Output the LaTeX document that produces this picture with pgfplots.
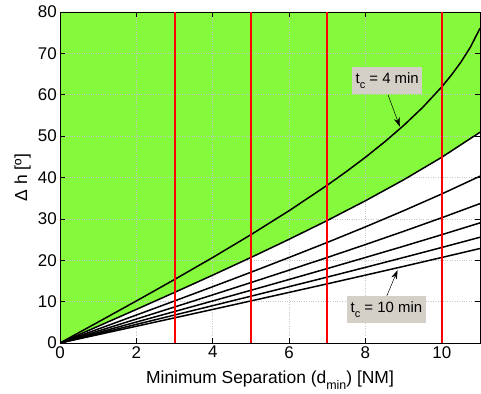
\documentclass[border=0pt]{standalone}
\usepackage{fontspec}
\setmainfont{Liberation Sans}
\usepackage{pgfplots}
\pgfplotsset{compat=1.18}
\usetikzlibrary{arrows.meta}
\definecolor{lime}{RGB}{133,250,60}
\definecolor{annot}{RGB}{212,208,200}
\begin{document}
\begin{tikzpicture}
\begin{axis}[
  set layers,
  scale only axis, width=420bp, height=331bp,
  xmin=0, xmax=11, ymin=0, ymax=80,
  xtick={0,2,4,6,8,10}, ytick={0,10,...,80},
  /pgf/number format/assume math mode=true,
  tick label style={font=\fontsize{17}{19}\selectfont},
  label style={font=\fontsize{17.5}{19}\selectfont},
  xticklabel style={inner sep=2bp, yshift=-1bp},
  yticklabel style={inner sep=3bp},
  tick align=inside, major tick length=5bp,
  tick style={black, line width=0.5bp},
  axis line style={black, line width=0.5bp},
  grid=major, major grid style={gray!45, dotted, line width=0.5bp},
  xlabel={Minimum Separation (d\raisebox{-0.75ex}{\fontsize{12.5}{13}\selectfont min}) [NM]},
  ylabel={Δ h [º]},
  xlabel style={at={(axis description cs:0.5,0)}, anchor=base, yshift=-40bp},
  ylabel style={at={(axis description cs:-0.089,0.5)}, anchor=center},
]
% green region above tc = 5 min
\addplot[fill=lime, draw=none, on layer=axis background] coordinates {
 (0,0) (1,4.048) (2,8.116) (3,12.23) (4,16.40) (5,20.67) (6,25.06) (7,29.61) (8,34.38) (9,39.44) (10,44.90) (11,50.94) (11,80) (0,80)};
% tc = 4
\addplot[black, line width=1.5bp] coordinates {
 (0,0) (1,5.062) (2,10.164) (3,15.35) (4,20.667) (5,26.18) (6,31.97) (7,38.14) (7.5,41.43) (8,44.90) (8.5,48.59) (9,52.57) (9.5,56.95) (10,61.93) (10.25,64.75) (10.5,67.88) (10.75,71.53) (11,76.06)};
% tc = 5
\addplot[black, line width=1.5bp] coordinates {
 (0,0) (1,4.048) (2,8.116) (3,12.23) (4,16.40) (5,20.67) (6,25.06) (7,29.61) (8,34.38) (9,39.44) (10,44.90) (11,50.94)};
% tc = 6
\addplot[black, line width=1.5bp] coordinates {
 (0,0) (1,3.372) (2,6.757) (3,10.164) (4,13.61) (5,17.10) (6,20.67) (7,24.31) (8,28.07) (9,31.97) (10,36.03) (11,40.32)};
% tc = 7
\addplot[black, line width=1.5bp] coordinates {
 (0,0) (1,2.890) (2,5.788) (3,8.700) (4,11.635) (5,14.60) (6,17.61) (7,20.67) (8,23.79) (9,26.99) (10,30.28) (11,33.69)};
% tc = 8
\addplot[black, line width=1.5bp] coordinates {
 (0,0) (1,2.529) (2,5.062) (3,7.605) (4,10.164) (5,12.74) (6,15.35) (7,17.99) (8,20.67) (9,23.39) (10,26.18) (11,29.03)};
% tc = 9
\addplot[black, line width=1.5bp] coordinates {
 (0,0) (1,2.247) (2,4.499) (3,6.757) (4,9.025) (5,11.31) (6,13.61) (7,15.93) (8,18.28) (9,20.67) (10,23.09) (11,25.56)};
% tc = 10
\addplot[black, line width=1.5bp] coordinates {
 (0,0) (1,2.023) (2,4.048) (3,6.078) (4,8.116) (5,10.164) (6,12.23) (7,14.30) (8,16.40) (9,18.52) (10,20.67) (11,22.84)};
% red vertical lines
\addplot[red, line width=2bp] coordinates {(3,0) (3,80)};
\addplot[red, line width=2bp] coordinates {(5,0) (5,80)};
\addplot[red, line width=2bp] coordinates {(7,0) (7,80)};
\addplot[red, line width=2bp] coordinates {(10,0) (10,80)};
% annotations
\draw[-{Stealth[length=9bp,width=6bp]}, line width=0.5bp] (axis cs:8.59,60.0) -- (axis cs:8.9,52.3);
\draw[-{Stealth[length=9bp,width=6bp]}, line width=0.5bp] (axis cs:8.56,11.4) -- (axis cs:8.84,17.6);
\node[fill=annot, inner xsep=3.5bp, inner ysep=5bp, font=\fontsize{15}{17}\selectfont] at (axis cs:8.57,63.4) {t\raisebox{-0.7ex}{\fontsize{11}{12}\selectfont c} = 4 min};
\node[fill=annot, inner xsep=3.5bp, inner ysep=5bp, font=\fontsize{15}{17}\selectfont] at (axis cs:8.55,8.1) {t\raisebox{-0.7ex}{\fontsize{11}{12}\selectfont c} = 10 min};
\end{axis}
\pgfresetboundingbox
\useasboundingbox ([shift={(-60bp,-51bp)}]current axis.south west) rectangle ([shift={(1bp,12bp)}]current axis.north east);
\end{tikzpicture}
\end{document}
